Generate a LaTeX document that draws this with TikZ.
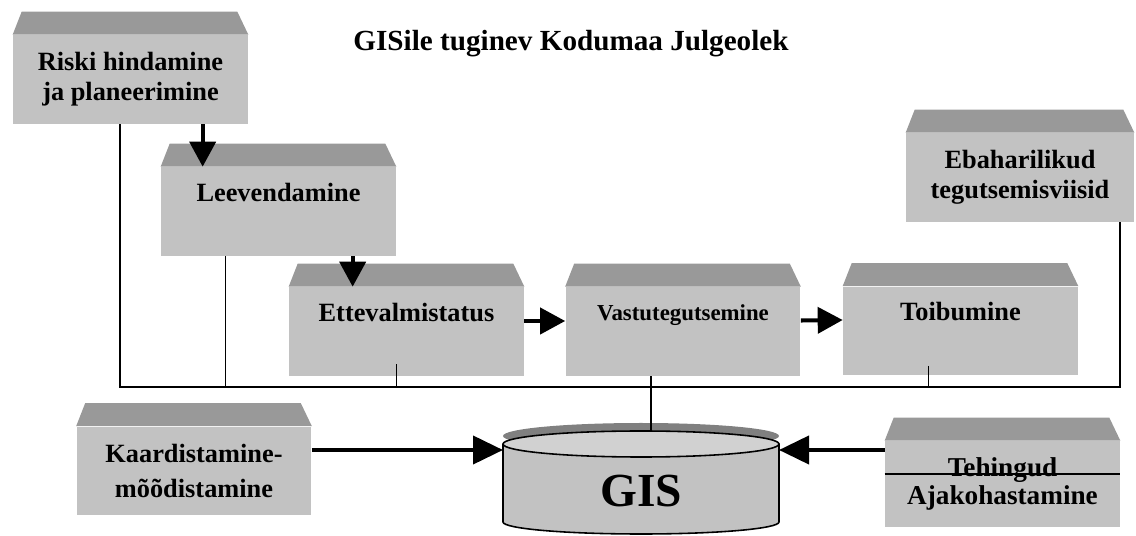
\documentclass[tikz,border=0pt]{standalone}
\usepackage{fontspec}
\setmainfont{Liberation Serif}
\usetikzlibrary{arrows.meta,calc}
\definecolor{esik}{gray}{0.76}
\definecolor{katus}{gray}{0.6}
\definecolor{kaas}{gray}{0.82}
\definecolor{vari}{gray}{0.5}
\newcommand{\katusKast}[1]{\fill[katus] (#1.north west)--++(9,-23)--($(#1.north east)+(-11,-23)$)--(#1.north east)--cycle;}

\begin{document}
\begin{tikzpicture}[x=0.02cm,y=-0.02cm,
kast/.style={fill=esik,minimum width=4.7cm,minimum height=1.78cm,inner sep=0pt,align=center,font=\fontsize{15}{17}\bfseries\selectfont},
nool/.style={line width=2.3pt,-{Triangle[length=0.5cm,width=0.52cm]}},
suurnool/.style={line width=2.3pt,-{Triangle[length=0.6cm,width=0.56cm]}},
joon/.style={line width=0.9pt}]
\useasboundingbox (0,0) rectangle (1136,536);
\node[font=\fontsize{16.6}{16.6}\bfseries\selectfont] (pealkiri) at (571,44) {GISile tuginev Kodumaa Julgeolek};
\node[kast] (riski) at (130.5,79.5) {Riski hindamine\\ja planeerimine};
\node[kast] (leev) at (278.5,211.5) {Leevendamine\\\strut};
\node[kast] (ette) at (406.5,331.5) {Ettevalmistatus\\\strut};
\node[kast,font=\fontsize{13}{17}\bfseries\selectfont] (vastu) at (683,331.5) {Vastutegutsemine\\\strut};
\node[kast] (toib) at (960.5,331) {Toibumine\\\strut};
\node[kast,minimum width=4.56cm] (ebah) at (1020,177.5) {Ebaharilikud\\tegutsemisviisid};
\node[kast,font=\fontsize{15}{20}\bfseries\selectfont] (kaart) at (194,471) {Kaardistamine-\\mõõdistamine};
\node[kast,minimum height=1.72cm,font=\fontsize{15.5}{15.5}\bfseries\selectfont] (tehing) at (1002.5,484) {Tehingud\\Ajakohastamine};
\foreach \k in {riski,leev,ette,vastu,toib,ebah,kaart,tehing} {\katusKast{\k}}
% GIS andmebaas
\fill[vari] (641,436) ellipse [x radius=138,y radius=13];
\fill[esik] (503,444) -- (503,522) arc[start angle=180,end angle=0,x radius=138,y radius=12] -- (779,444);
\draw[joon] (503,444) -- (503,522) arc[start angle=180,end angle=0,x radius=138,y radius=12] -- (779,444);
\filldraw[fill=kaas,joon] (641,444) ellipse [x radius=138,y radius=13];
\node[font=\fontsize{27}{27}\bfseries\selectfont] (gis) at (641,491) {GIS};
\coordinate (gisV) at (503,450);
\coordinate (gisP) at (779,450);
\coordinate (gisY) at (651,431);
% siin
\coordinate (bussV) at (120,387);
\coordinate (bussP) at (1120,387);
\draw[joon] (bussV |- riski.south) -- (bussV) -- (bussP) -- (bussP |- ebah.south);
\coordinate (leevJ) at ($(leev.south west)+(65,0)$);
\draw[joon] (leevJ) -- (leevJ |- bussV);
\coordinate (etteJ) at ($(ette.south)+(-10,-12)$);
\draw[joon] (etteJ) -- (etteJ |- bussV);
\coordinate (toibJ) at ($(toib.south)+(-32,-10)$);
\draw[joon] (toibJ) -- (toibJ |- bussV);
\draw[joon] (gisY) -- (gisY |- vastu.south);
% nooled
\coordinate (riskiN) at ($(riski.south west)+(190,0)$);
\draw[nool] (riskiN) -- (riskiN |- leev.north);
\coordinate (leevN) at ($(leev.south west)+(192,0)$);
\draw[nool] (leevN) -- (leevN |- ette.north);
\draw[nool] ([yshift=0.21cm]ette.east) -- ([yshift=0.21cm]vastu.west);
\draw[nool] ([yshift=0.22cm]vastu.east) -- ([yshift=0.22cm]toib.west);
\draw[suurnool] (gisV -| kaart.east) -- (gisV);
\draw[suurnool] (gisP -| tehing.west) -- (gisP);
\draw[joon] ([yshift=0.2cm]tehing.west) -- ([yshift=0.2cm]tehing.east);
\end{tikzpicture}
\end{document}
